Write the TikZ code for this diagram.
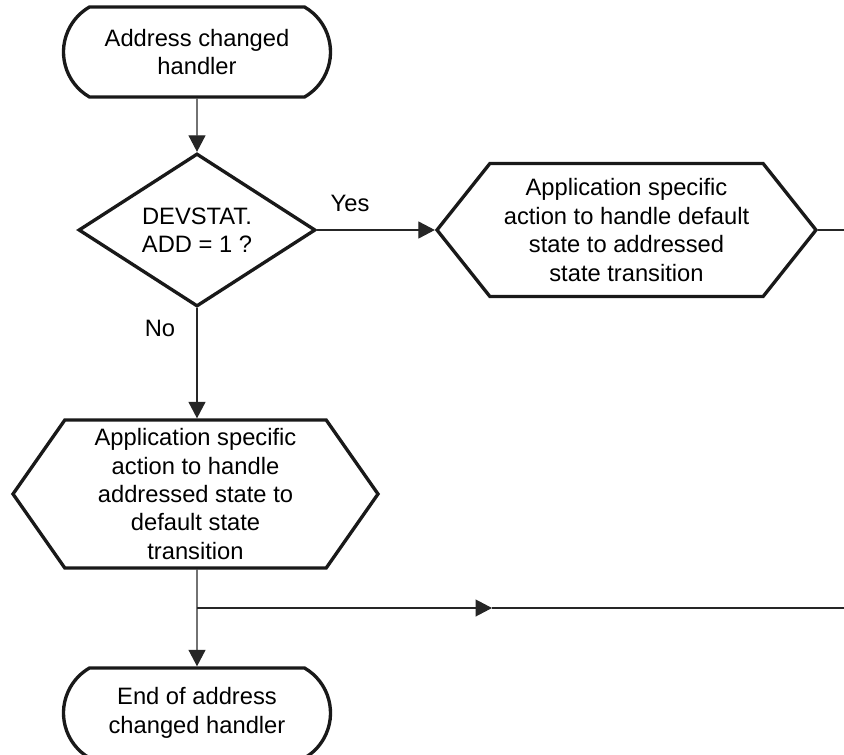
\documentclass[tikz,border=0pt]{standalone}
\usepackage{fontspec}
\setmainfont{Liberation Sans}
\usetikzlibrary{arrows.meta, positioning, shapes.geometric, shapes.misc, shapes.symbols}

\begin{document}
\begin{tikzpicture}[
    terminal/.style={rounded rectangle, rounded rectangle arc length=120, draw=black!90, line width=1.9pt,
      minimum width=5.34cm, minimum height=1.8cm, inner sep=0, align=center, font=\flowfont},
    decision/.style={diamond, draw=black!90, line width=1.9pt, minimum width=4.74cm, minimum height=3.06cm,
      aspect=1.55, inner sep=0, align=center, font=\flowfont},
    action/.style={signal, signal to=west and east, draw=black!90, line width=1.9pt, inner sep=0,
      align=center, font=\flowfont},
    flow/.style={-{Triangle[length=0.33cm, width=0.34cm]}, line width=0.7pt, black!85},
    plain/.style={line width=0.7pt, black!85},
    lbl/.style={font=\flowfont}
]
  \newcommand{\flowfont}{\fontsize{13.5}{16.2}\selectfont}
  \clip (0, 0) rectangle (16.88, -15.1);

  % Start
  \node[terminal] (start) at (3.94, -1.04) {Address changed\\handler};

  % Decision
  \node[decision] (addcheck) at (3.94, -4.6) {DEVSTAT.\\ADD = 1 ?};
  \node[lbl] at (7.0, -4.06) {Yes};
  \node[lbl] at (3.2, -6.56) {No};

  % Actions
  \node[action, minimum width=7.58cm, minimum height=2.66cm, signal pointer angle=103] (deftoaddr) at (12.53, -4.6)
    {Application specific\\action to handle default\\state to addressed\\state transition};
  \node[action, minimum width=7.3cm, minimum height=2.96cm, signal pointer angle=110] (addrtodef) at (3.91, -9.88)
    {Application specific\\action to handle\\addressed state to\\default state\\transition};

  % End
  \node[terminal] (endhandler) at (3.94, -14.26) {End of address\\changed handler};

  % Free ends and junction
  \coordinate (outright) at (16.88, -4.6);
  \coordinate (junc) at (3.94, -12.16);
  \coordinate (midtip) at (9.84, -12.16);
  \coordinate (outlow) at (16.88, -12.16);

  % Connections
  \draw[flow] (start) -- (addcheck);
  \draw[flow] (addcheck.east) -- (deftoaddr.west);
  \draw[plain] (deftoaddr.east) -- (outright);
  \draw[flow] (addcheck.south) -- (addrtodef.north -| addcheck.south);
  \draw[flow] (addrtodef.south -| addcheck.south) -- (endhandler);
  \draw[flow] (junc) -- (midtip);
  \draw[plain] (midtip) -- (outlow);
\end{tikzpicture}
\end{document}
